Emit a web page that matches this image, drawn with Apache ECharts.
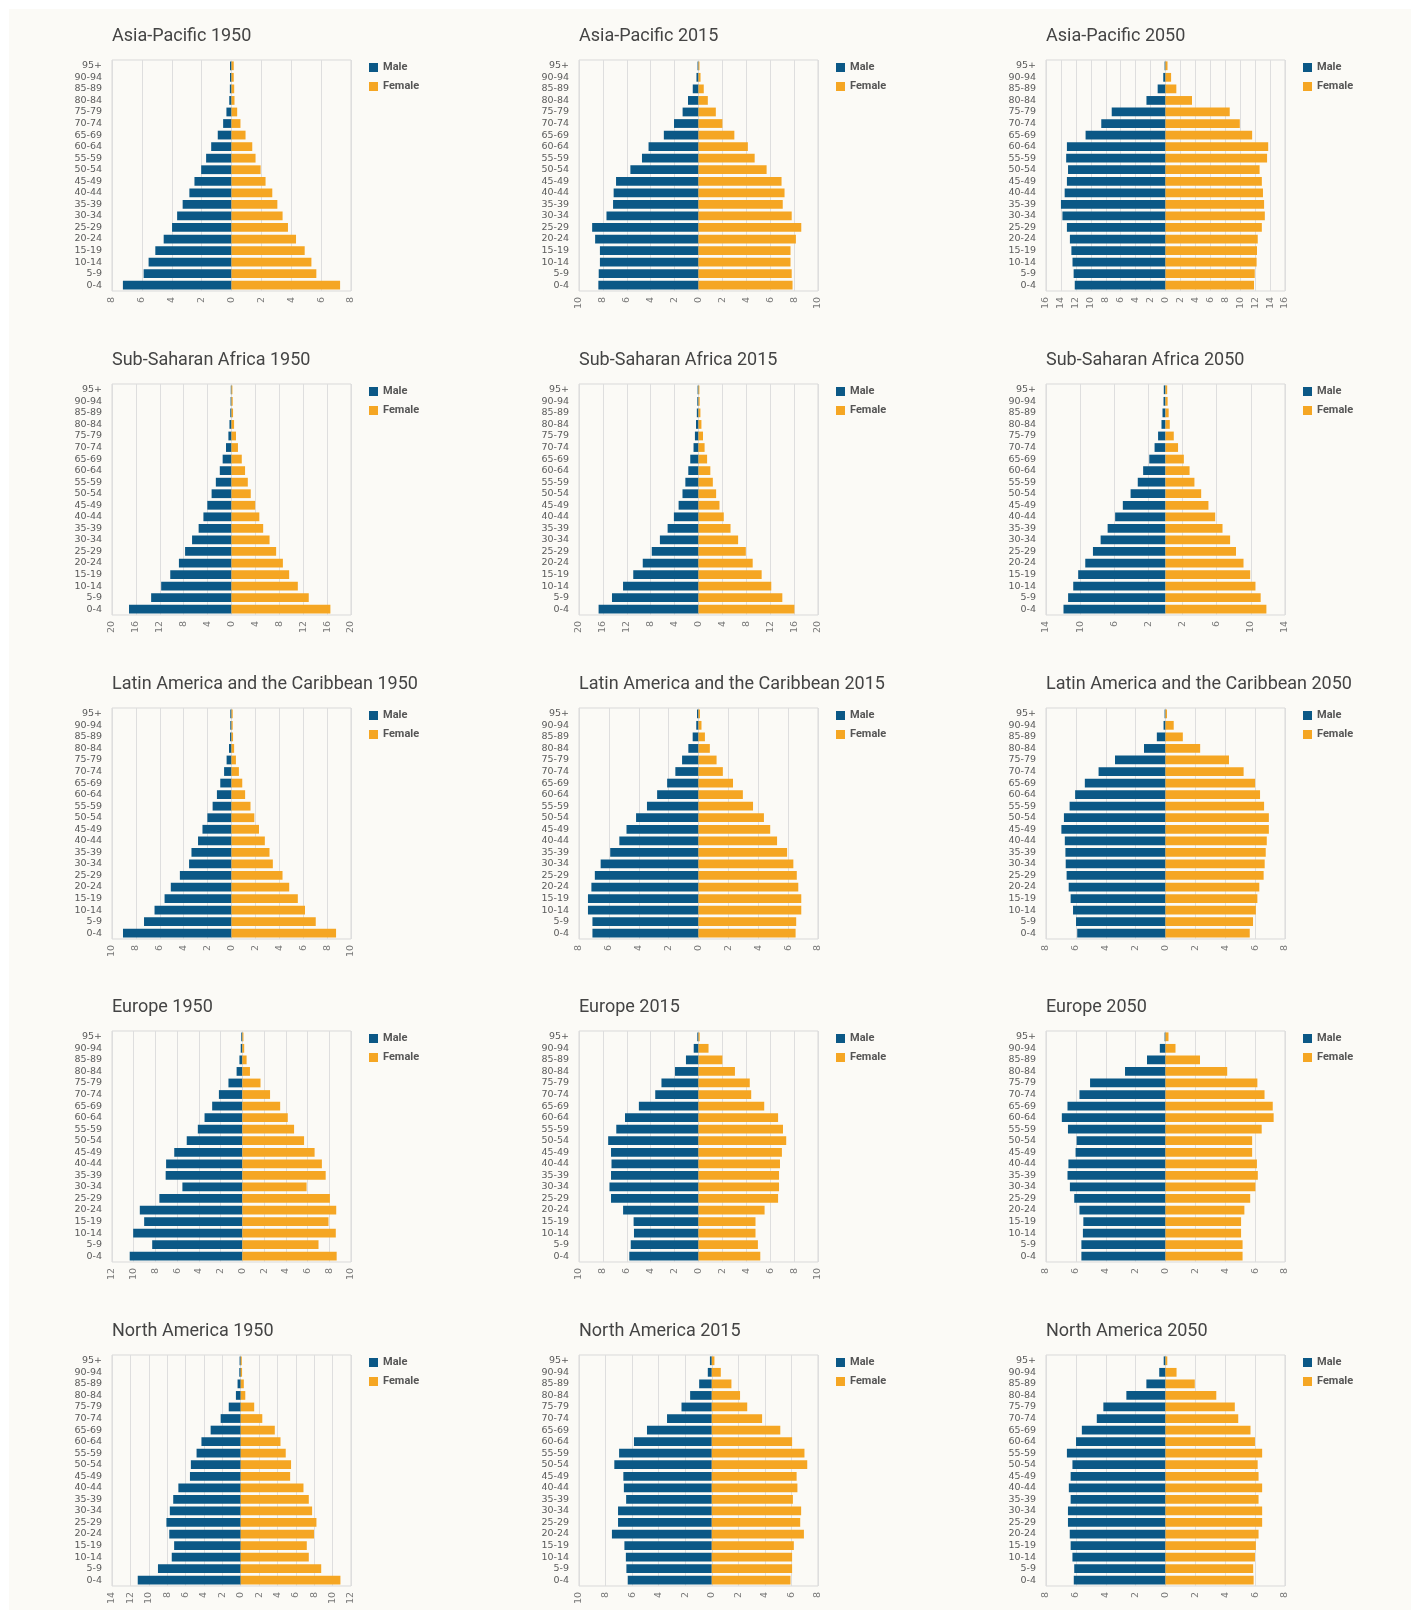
<!DOCTYPE html>
<html>
<head>
<meta charset="utf-8">
<title>Population pyramids</title>
<script src="https://cdn.jsdelivr.net/npm/echarts@6/dist/echarts.min.js"></script>
<style>
  html, body { margin: 0; padding: 0; background: #fff; }
  #panel { position: absolute; left: 9px; top: 9px; width: 1402px; height: 1601px; background: #fbfaf6; }
  .pyr { position: absolute; width: 468px; height: 324px; }
</style>
</head>
<body>
<div id="panel"></div>
<div id="charts"></div>
<script>
// age groups, youngest first (drawn at the bottom)
var ageGroups = ['0-4', '5-9', '10-14', '15-19', '20-24', '25-29', '30-34', '35-39', '40-44', '45-49',
  '50-54', '55-59', '60-64', '65-69', '70-74', '75-79', '80-84', '85-89', '90-94', '95+'];

// share of population (%), same order as ageGroups
var apMale1950 = [7.27, 5.88, 5.55, 5.1, 4.54, 3.98, 3.64, 3.27, 2.82, 2.48, 2.03, 1.7, 1.36, 0.92, 0.56, 0.34, 0.15, 0.11, 0.1, 0.1];
var apFemale1950 = [7.27, 5.68, 5.35, 4.9, 4.32, 3.78, 3.42, 3.07, 2.73, 2.28, 1.95, 1.61, 1.39, 0.94, 0.6, 0.38, 0.2, 0.18, 0.15, 0.15];
var apMale2015 = [8.38, 8.35, 8.25, 8.25, 8.65, 8.9, 7.7, 7.15, 7.1, 6.9, 5.7, 4.73, 4.18, 2.9, 2.05, 1.33, 0.88, 0.48, 0.17, 0.08];
var apFemale2015 = [7.87, 7.8, 7.7, 7.7, 8.15, 8.6, 7.8, 7.05, 7.2, 6.95, 5.7, 4.7, 4.13, 3.0, 2.0, 1.45, 0.78, 0.44, 0.17, 0.08];
var apMale2050 = [12.15, 12.3, 12.45, 12.6, 12.8, 13.2, 13.8, 14.0, 13.5, 13.2, 13.05, 13.3, 13.2, 10.7, 8.6, 7.2, 2.55, 1.05, 0.3, 0.12];
var apFemale2050 = [11.85, 11.95, 12.2, 12.25, 12.35, 12.9, 13.3, 13.2, 13.05, 12.9, 12.6, 13.6, 13.75, 11.6, 9.95, 8.6, 3.55, 1.45, 0.75, 0.27];

var ssaMale1950 = [17.15, 13.45, 11.77, 10.25, 8.8, 7.77, 6.6, 5.5, 4.7, 4.05, 3.33, 2.62, 1.96, 1.48, 0.92, 0.52, 0.34, 0.2, 0.15, 0.12];
var ssaFemale1950 = [16.55, 12.93, 11.1, 9.65, 8.6, 7.47, 6.37, 5.3, 4.66, 3.97, 3.22, 2.73, 2.27, 1.72, 1.08, 0.75, 0.43, 0.26, 0.2, 0.15];
var ssaMale2015 = [16.72, 14.48, 12.63, 10.92, 9.33, 7.82, 6.46, 5.17, 4.12, 3.33, 2.68, 2.2, 1.71, 1.38, 0.83, 0.6, 0.42, 0.28, 0.2, 0.15];
var ssaFemale2015 = [16.05, 14.03, 12.18, 10.57, 9.07, 7.92, 6.63, 5.36, 4.23, 3.51, 2.95, 2.4, 1.98, 1.44, 1.02, 0.75, 0.49, 0.32, 0.2, 0.15];
var ssaMale2050 = [11.95, 11.41, 10.81, 10.23, 9.4, 8.5, 7.6, 6.78, 5.9, 5.0, 4.09, 3.25, 2.62, 1.9, 1.28, 0.87, 0.47, 0.35, 0.23, 0.2];
var ssaFemale2050 = [11.82, 11.15, 10.54, 9.92, 9.14, 8.26, 7.57, 6.68, 5.82, 5.03, 4.18, 3.39, 2.82, 2.15, 1.47, 0.97, 0.5, 0.37, 0.25, 0.2];

var lacMale1950 = [9.08, 7.32, 6.44, 5.6, 5.08, 4.32, 3.55, 3.35, 2.8, 2.43, 2.02, 1.58, 1.22, 0.94, 0.62, 0.41, 0.21, 0.12, 0.1, 0.1];
var lacFemale1950 = [8.75, 7.05, 6.15, 5.55, 4.83, 4.27, 3.46, 3.18, 2.79, 2.3, 1.91, 1.59, 1.14, 0.9, 0.62, 0.37, 0.22, 0.13, 0.1, 0.1];
var lacMale2015 = [7.1, 7.1, 7.4, 7.4, 7.17, 6.94, 6.55, 5.91, 5.3, 4.82, 4.18, 3.45, 2.77, 2.1, 1.55, 1.1, 0.68, 0.39, 0.15, 0.1];
var lacFemale2015 = [6.5, 6.54, 6.88, 6.88, 6.68, 6.58, 6.35, 5.93, 5.26, 4.8, 4.38, 3.65, 2.97, 2.31, 1.63, 1.21, 0.76, 0.43, 0.2, 0.1];
var lacMale2050 = [5.91, 5.99, 6.19, 6.35, 6.48, 6.62, 6.68, 6.7, 6.74, 6.97, 6.8, 6.42, 6.05, 5.4, 4.48, 3.38, 1.44, 0.58, 0.13, 0.06];
var lacFemale2050 = [5.64, 5.86, 6.05, 6.15, 6.28, 6.57, 6.64, 6.71, 6.78, 6.92, 6.92, 6.6, 6.33, 6.0, 5.23, 4.25, 2.32, 1.16, 0.55, 0.1];

var euMale1950 = [10.37, 8.3, 10.05, 9.04, 9.44, 7.64, 5.52, 7.06, 7.02, 6.27, 5.12, 4.1, 3.48, 2.78, 2.16, 1.28, 0.53, 0.27, 0.15, 0.1];
var euFemale1950 = [8.68, 7.01, 8.6, 7.93, 8.64, 8.06, 5.91, 7.67, 7.32, 6.65, 5.68, 4.76, 4.18, 3.48, 2.55, 1.67, 0.7, 0.39, 0.17, 0.1];
var euMale2015 = [5.79, 5.67, 5.4, 5.43, 6.31, 7.32, 7.45, 7.32, 7.28, 7.32, 7.56, 6.88, 6.15, 4.99, 3.62, 3.1, 1.97, 1.05, 0.4, 0.1];
var euFemale2015 = [5.17, 4.97, 4.77, 4.77, 5.53, 6.66, 6.74, 6.74, 6.82, 6.98, 7.34, 7.07, 6.66, 5.5, 4.41, 4.29, 3.05, 2.0, 0.84, 0.1];
var euMale2050 = [5.63, 5.63, 5.53, 5.5, 5.76, 6.11, 6.4, 6.56, 6.5, 6.02, 5.95, 6.53, 6.94, 6.56, 5.76, 5.05, 2.71, 1.24, 0.38, 0.06];
var euFemale2050 = [5.16, 5.16, 5.06, 5.06, 5.28, 5.67, 6.02, 6.18, 6.12, 5.8, 5.8, 6.44, 7.24, 7.18, 6.63, 6.15, 4.13, 2.31, 0.67, 0.2];

var naMale1950 = [11.2, 9.0, 7.5, 7.24, 7.77, 8.08, 7.71, 7.34, 6.78, 5.52, 5.42, 4.8, 4.27, 3.27, 2.18, 1.3, 0.52, 0.34, 0.15, 0.12];
var naFemale1950 = [10.85, 8.76, 7.41, 7.19, 7.98, 8.24, 7.77, 7.41, 6.83, 5.38, 5.48, 4.9, 4.33, 3.71, 2.35, 1.47, 0.5, 0.34, 0.15, 0.12];
var naMale2015 = [6.33, 6.43, 6.47, 6.58, 7.52, 7.06, 7.06, 6.45, 6.62, 6.66, 7.34, 6.98, 5.86, 4.88, 3.37, 2.28, 1.63, 0.95, 0.3, 0.14];
var naFemale2015 = [5.93, 6.05, 6.05, 6.18, 6.94, 6.66, 6.73, 6.11, 6.45, 6.39, 7.19, 6.98, 6.05, 5.16, 3.79, 2.67, 2.13, 1.48, 0.68, 0.2];
var naMale2050 = [6.14, 6.11, 6.23, 6.35, 6.41, 6.53, 6.53, 6.35, 6.47, 6.35, 6.23, 6.6, 5.99, 5.6, 4.6, 4.16, 2.62, 1.28, 0.42, 0.12];
var naFemale2050 = [5.9, 5.87, 5.99, 6.05, 6.23, 6.47, 6.47, 6.23, 6.47, 6.23, 6.17, 6.47, 5.99, 5.69, 4.87, 4.64, 3.4, 1.96, 0.74, 0.12];

var titles = [
  'Asia-Pacific 1950', 'Asia-Pacific 2015', 'Asia-Pacific 2050',
  'Sub-Saharan Africa 1950', 'Sub-Saharan Africa 2015', 'Sub-Saharan Africa 2050',
  'Latin America and the Caribbean 1950', 'Latin America and the Caribbean 2015', 'Latin America and the Caribbean 2050',
  'Europe 1950', 'Europe 2015', 'Europe 2050',
  'North America 1950', 'North America 2015', 'North America 2050'
];
var maleData = [apMale1950, apMale2015, apMale2050, ssaMale1950, ssaMale2015, ssaMale2050,
  lacMale1950, lacMale2015, lacMale2050, euMale1950, euMale2015, euMale2050, naMale1950, naMale2015, naMale2050];
var femaleData = [apFemale1950, apFemale2015, apFemale2050, ssaFemale1950, ssaFemale2015, ssaFemale2050,
  lacFemale1950, lacFemale2015, lacFemale2050, euFemale1950, euFemale2015, euFemale2050, naFemale1950, naFemale2015, naFemale2050];

// x axis ticks for each chart
var axisMin = [-8, -10, -16, -20, -20, -14, -10, -8, -8, -12, -10, -8, -14, -10, -8];
var axisMax = [8, 10, 16, 20, 20, 14, 10, 8, 8, 10, 10, 8, 12, 8, 8];
var axisStep = [2, 2, 2, 4, 4, 4, 2, 2, 2, 2, 2, 2, 2, 2, 2];

var maleColor = '#0b5886';
var femaleColor = '#f5a623';

var cellLeft = [0, 467, 934];
var cellStep = 323.75;

function absLabel(v) { return String(Math.abs(v)); }

var holder = document.getElementById('charts');
for (var i = 0; i < titles.length; i++) {
  var box = document.createElement('div');
  box.className = 'pyr';
  box.style.left = cellLeft[i % 3] + 'px';
  box.style.top = Math.round(Math.floor(i / 3) * cellStep) + 'px';
  holder.appendChild(box);

  var myChart = echarts.init(box);
  var option = {
    animation: false,
    title: {
      text: titles[i], left: 112, top: 27, padding: 0,
      textStyle: { fontFamily: 'Roboto', fontSize: 18, fontWeight: 'normal', color: '#444' }
    },
    legend: {
      data: ['Male', 'Female'], orient: 'vertical', left: 369, top: 62, padding: 0,
      icon: 'rect', itemWidth: 9, itemHeight: 9, itemGap: 8, selectedMode: false,
      textStyle: { fontFamily: 'Roboto', fontSize: 11, fontWeight: 'bold', color: '#555' }
    },
    grid: {
      left: 112, top: 60, width: 239, height: 231,
      show: true, borderColor: '#d9d9d9', borderWidth: 1
    },
    xAxis: {
      type: 'value', min: axisMin[i], max: axisMax[i], interval: axisStep[i],
      axisLine: { show: false }, axisTick: { show: false },
      splitLine: { lineStyle: { color: '#dedede' } },
      axisLabel: {
        rotate: 90, margin: 6, color: '#777', fontFamily: 'DejaVu Sans', fontSize: 9.5,
        showMinLabel: true, showMaxLabel: true, hideOverlap: false, formatter: absLabel
      }
    },
    yAxis: {
      type: 'category', data: ageGroups,
      axisLine: { show: false }, axisTick: { show: false },
      axisLabel: { interval: 0, margin: 10, color: '#5a5a5a', fontFamily: 'DejaVu Sans', fontSize: 9.5 }
    },
    series: [
      {
        name: 'Male', type: 'bar', stack: 'pyr', barCategoryGap: '24%',
        itemStyle: { color: maleColor },
        data: maleData[i].map(function (v) { return -v; })
      },
      {
        name: 'Female', type: 'bar', stack: 'pyr', barCategoryGap: '24%',
        itemStyle: { color: femaleColor },
        data: femaleData[i]
      }
    ]
  };
  myChart.setOption(option);
}
</script>
</body>
</html>
